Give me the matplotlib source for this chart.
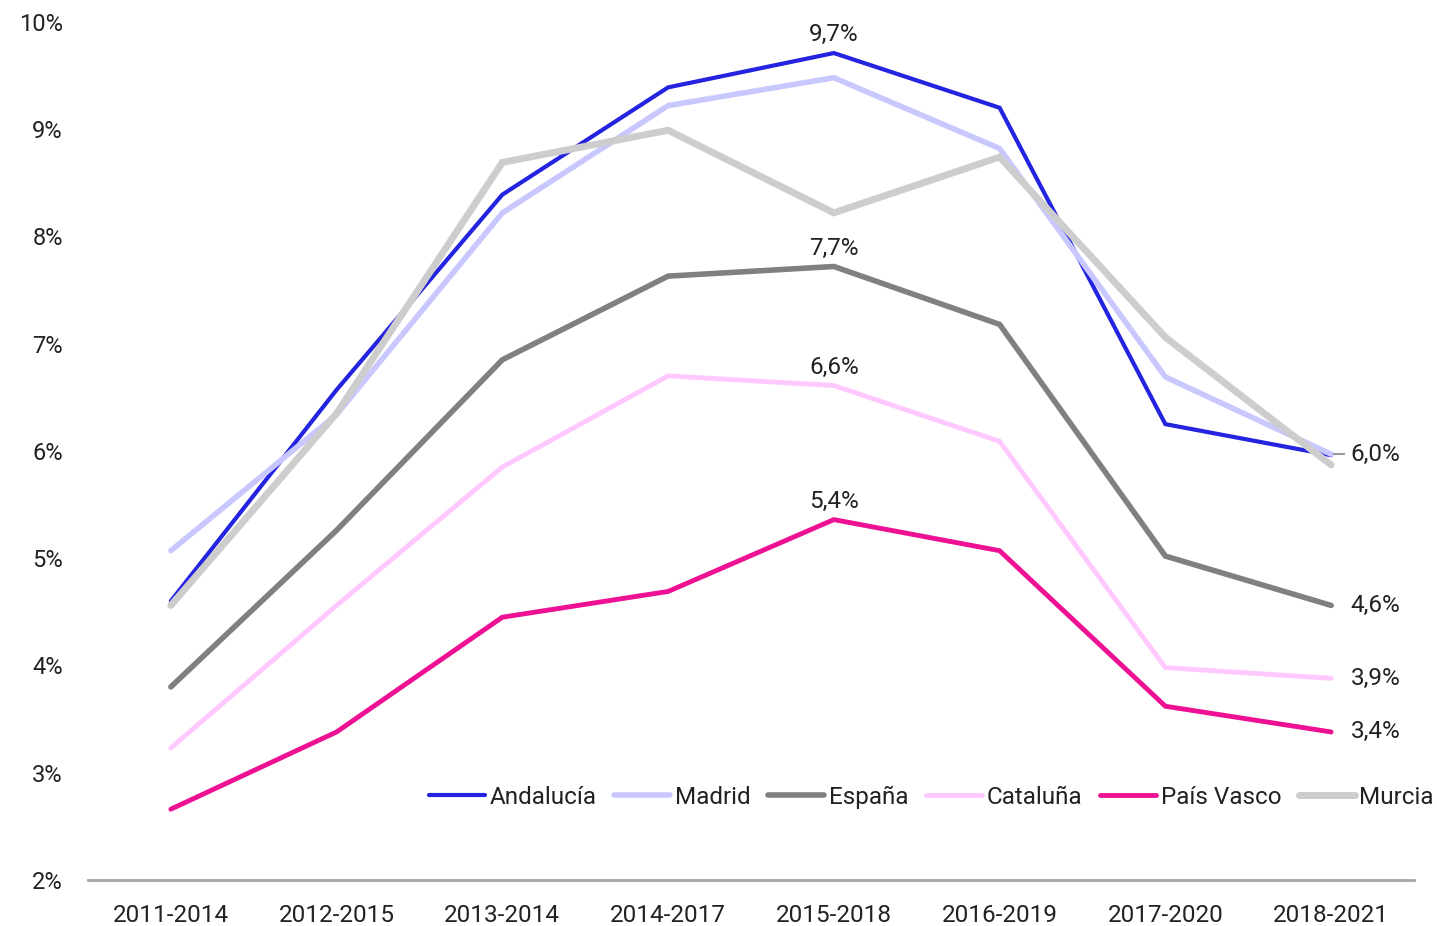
import matplotlib
matplotlib.use("Agg")
import matplotlib.pyplot as plt
from matplotlib.ticker import FuncFormatter

plt.rcParams["font.family"] = ["Roboto", "DejaVu Sans"]

periods = ["2011-2014", "2012-2015", "2013-2014", "2014-2017",
           "2015-2018", "2016-2019", "2017-2020", "2018-2021"]

andalucia = [4.60, 6.57, 8.39, 9.39, 9.71, 9.20, 6.25, 5.96]
madrid = [5.07, 6.34, 8.22, 9.22, 9.48, 8.82, 6.69, 5.97]
espana = [3.80, 5.26, 6.85, 7.63, 7.72, 7.18, 5.02, 4.56]
cataluna = [3.23, 4.56, 5.85, 6.70, 6.61, 6.09, 3.98, 3.88]
pais_vasco = [2.66, 3.38, 4.45, 4.69, 5.36, 5.07, 3.62, 3.38]
murcia = [4.56, 6.35, 8.69, 8.99, 8.22, 8.74, 7.06, 5.87]

series = [
    ("Andalucía", andalucia, "#2323E0", 3.0),
    ("Madrid", madrid, "#C8C8FF", 4.0),
    ("España", espana, "#808080", 4.0),
    ("Cataluña", cataluna, "#FFC8FF", 3.5),
    ("País Vasco", pais_vasco, "#EE1193", 3.5),
    ("Murcia", murcia, "#CDCDCD", 5.0),
]

TXT = "#222222"
FS = 17.5


def pct(v):
    # round half up, like the source labels
    return f"{v + 1e-6:.1f}%".replace(".", ",")


fig = plt.figure(figsize=(14.37, 9.26), dpi=100)
ax = fig.add_axes([0.0612, 0.0497, 0.9228, 0.9266])

x = list(range(len(periods)))
for name, vals, color, lw in series:
    ax.plot(x, vals, color=color, lw=lw, label=name, solid_capstyle="round",
            solid_joinstyle="miter")

# peak labels at 2015-2018
peak_i = periods.index("2015-2018")
for vals in (andalucia, espana, cataluna, pais_vasco):
    ax.annotate(pct(vals[peak_i]), (peak_i, vals[peak_i]),
                xytext=(0, 5), textcoords="offset points", ha="center", va="bottom",
                fontsize=FS, color=TXT)

# end labels
last = len(periods) - 1
for vals in (madrid, espana, cataluna, pais_vasco):
    ax.annotate(pct(vals[last]), (last, vals[last]),
                xytext=(14, 0), textcoords="offset points", ha="left", va="center",
                fontsize=FS, color=TXT)
ax.plot([last + 0.02, last + 0.08], [madrid[last], madrid[last]], color="#999999", lw=1.5)

ax.set_xlim(-0.5, 7.5)
ax.set_ylim(2, 10)
ax.set_yticks(range(2, 11))
ax.yaxis.set_major_formatter(FuncFormatter(lambda v, p: f"{int(v)}%"))
ax.set_xticks(x)
ax.set_xticklabels(periods)
ax.tick_params(axis="y", length=0, pad=18, labelsize=17, labelcolor=TXT)
ax.tick_params(axis="x", length=0, pad=17, labelsize=FS, labelcolor=TXT)

for s in ("top", "right", "left"):
    ax.spines[s].set_visible(False)
ax.spines["bottom"].set_color("#A6A6A6")
ax.spines["bottom"].set_linewidth(2)
ax.spines["bottom"].set_zorder(0)

leg = ax.legend(ncol=6, loc="center right", bbox_to_anchor=(1.015, (880 - 797) / 858),
                frameon=False, fontsize=FS, handlelength=2.3, handletextpad=0.2,
                columnspacing=0.72, borderaxespad=0, borderpad=0)
for t in leg.get_texts():
    t.set_color(TXT)

fig.savefig("out.png", dpi=100, facecolor="white")
